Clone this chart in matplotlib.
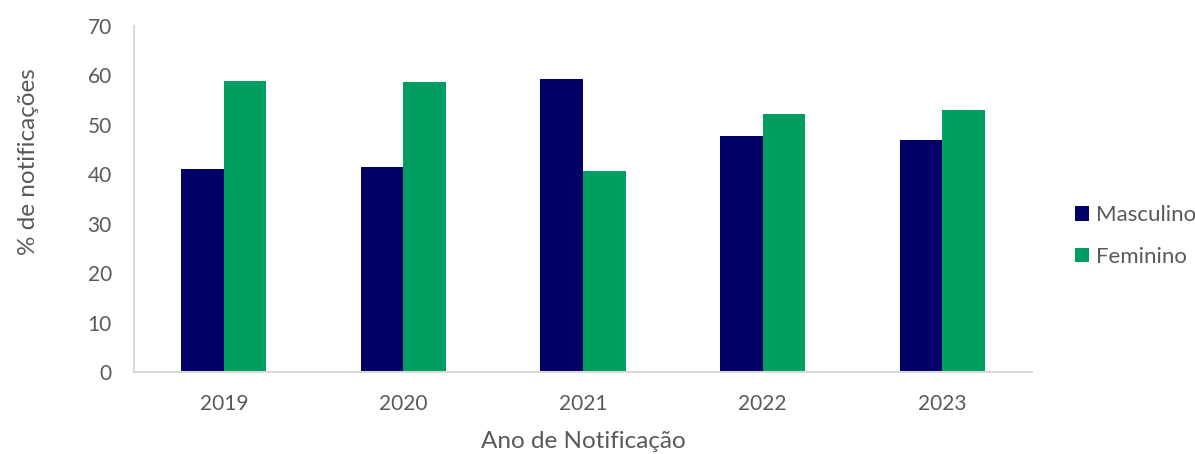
import matplotlib
matplotlib.use("Agg")
import matplotlib.pyplot as plt
import numpy as np

anos = ["2019", "2020", "2021", "2022", "2023"]
masculino = [41.1, 41.4, 59.3, 47.8, 47.0]
feminino = [58.9, 58.6, 40.7, 52.2, 53.0]
series_nomes = ["Masculino", "Feminino"]
yticks = [0, 10, 20, 30, 40, 50, 60, 70]

plt.rcParams['font.family'] = ['Lato', 'DejaVu Sans']
txt = '#595959'

fig = plt.figure(figsize=(11.95, 4.54), dpi=100)
ax = fig.add_axes([134/1195, 1-372/454, (1032-134)/1195, (372-26)/454])

x = np.arange(len(anos))
w = 0.237
ax.bar(x - w/2, masculino, w, color='#000066', label=series_nomes[0])
ax.bar(x + w/2, feminino, w, color='#009E60', label=series_nomes[1])

ax.set_xlim(-0.5, len(anos) - 0.5)
ax.set_ylim(0, 70)
ax.set_yticks(yticks)
ax.set_xticks(x)
ax.set_xticklabels(anos)

for s in ['top', 'right']:
    ax.spines[s].set_visible(False)
for s in ['left', 'bottom']:
    ax.spines[s].set_color('#d9d9d9')
    ax.spines[s].set_linewidth(1.5)
ax.tick_params(axis='both', length=0, labelsize=15, colors=txt)
ax.tick_params(axis='y', pad=16)
ax.tick_params(axis='x', pad=16)

ax.set_xlabel("Ano de Notificação", fontsize=17.5, color=txt)
ax.xaxis.set_label_coords(0.5, -0.2)
ax.set_ylabel("% de notificações", fontsize=17.5, color=txt)
ax.yaxis.set_label_coords(-0.117, 0.607)
ax.xaxis.label.set_va('center')
ax.yaxis.label.set_va('center')

leg = fig.legend(loc='center left', bbox_to_anchor=(1075/1195, 1-236/454),
                 frameon=False, fontsize=16, handlelength=0.63, handleheight=0.63,
                 handletextpad=0.3, labelspacing=0.98, borderaxespad=0,
                 borderpad=0)
for t in leg.get_texts():
    t.set_color(txt)

fig.savefig("out.png", dpi=100)
